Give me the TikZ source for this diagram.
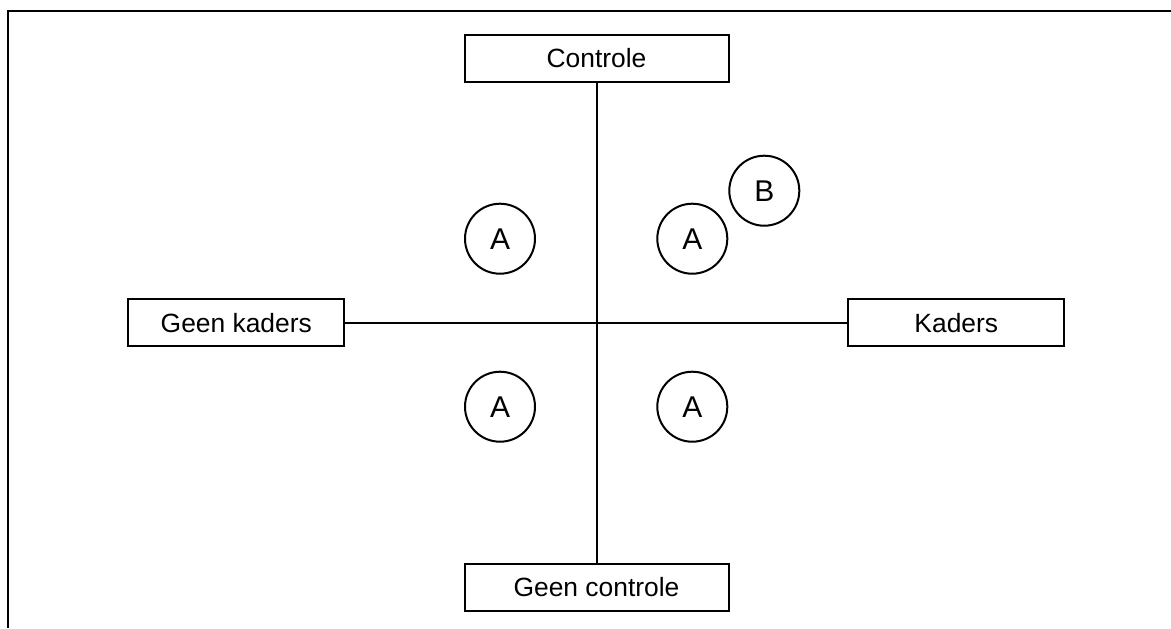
\documentclass[tikz,border=0pt]{standalone}
\usepackage{fontspec}
\setmainfont{Liberation Sans}

\begin{document}
\begin{tikzpicture}[x=0.5pt,y=-0.5pt,
  every node/.style={font=\fontsize{13.2}{16}\selectfont},
  vak/.style={draw,line width=1pt,rectangle,minimum height=23.5pt,inner sep=0pt},
  bol/.style={draw,line width=1pt,circle,minimum size=35pt,inner sep=0pt,font=\fontsize{15}{18}\selectfont}]
 \useasboundingbox (0,0) rectangle (1171,628);
 \draw[line width=1.3pt] (8,628) -- (8,11) -- (1171,11);
 \node[vak,minimum width=132pt] (controle) at (596.5,58.5) {Controle};
 \node[vak,minimum width=132pt] (geencontrole) at (596.5,587) {Geen controle};
 \node[vak,minimum width=108pt] (geenkaders) at (236.3,322.7) {Geen kaders};
 \node[vak,minimum width=108pt] (kaders) at (956.3,322.7) {Kaders};
 \draw[line width=1pt] (controle)--(geencontrole);
 \draw[line width=1pt] (geenkaders)--(kaders);
 \node[bol] (alb) at (500,238.7) {A};
 \node[bol] (arb) at (692.3,238.7) {A};
 \node[bol] (b) at (764.3,190.7) {B};
 \node[bol] (alo) at (500,406.7) {A};
 \node[bol] (aro) at (692.3,406.7) {A};
\end{tikzpicture}
\end{document}
